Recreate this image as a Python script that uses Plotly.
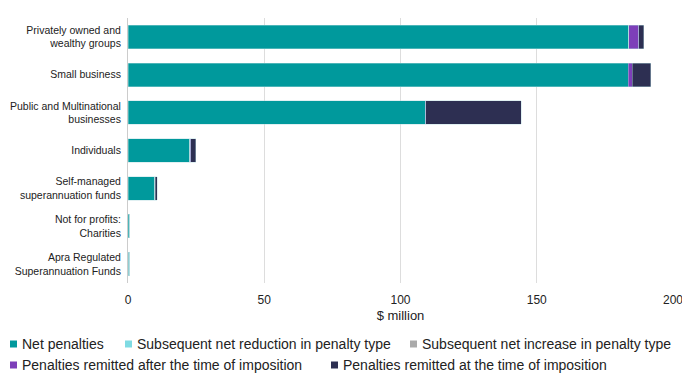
import plotly.graph_objects as go

categories = ["Privately owned and<br>wealthy groups", "Small business", "Public and Multinational<br>businesses",
              "Individuals", "Self-managed<br>superannuation funds", "Not for profits:<br>Charities",
              "Apra Regulated<br>Superannuation Funds"]
net_penalties = [183.8, 183.5, 109.0, 22.7, 9.9, 0.6, 0.3]
net_reduction = [0.0, 0.0, 0.0, 0.0, 0.0, 0.0, 0.1]
net_increase = [0.0, 0.0, 0.0, 0.0, 0.0, 0.0, 0.0]
remitted_after = [3.6, 1.5, 0.2, 0.4, 0.1, 0.0, 0.0]
remitted_at = [1.8, 6.8, 35.2, 1.7, 0.8, 0.0, 0.0]

series_names = ["Net penalties", "Subsequent net reduction in penalty type",
                "Subsequent net increase in penalty type",
                "Penalties remitted after the time of imposition",
                "Penalties remitted at the time of imposition"]
series_values = [net_penalties, net_reduction, net_increase, remitted_after, remitted_at]
series_colors = ["#00999c", "#7fdbe3", "#aaaaaa", "#7d3fb9", "#2d2f52"]

FONT = "Liberation Sans, Arial, sans-serif"

# figure geometry (page is offset by the 8px body margin)
W, H = 682, 372
L, R, T, B = 120, 17, 10, 97
PW, PH = W - L - R, H - T - B

fig = go.Figure()
for name, vals, col in zip(series_names, series_values, series_colors):
    fig.add_trace(go.Bar(
        y=categories, x=vals, name=name, orientation="h",
        marker=dict(color=col, line=dict(color="rgba(180,220,225,0.7)", width=0.6)),
        width=0.62, showlegend=False,
    ))

# manual legend (tight symbol/text spacing like the reference)
legend_pos = [(14, 336), (129, 336), (414, 336), (14, 357), (335, 357)]  # text start x, center y (figure px)
shapes, annotations = [], []
for (tx, cy), name, col in zip(legend_pos, series_names, series_colors):
    sx0 = tx - 12
    shapes.append(dict(type="rect", xref="paper", yref="paper",
                       x0=(sx0 - L) / PW, x1=(sx0 + 7 - L) / PW,
                       y0=(T + PH - (cy + 3.5)) / PH, y1=(T + PH - (cy - 3.5)) / PH,
                       fillcolor=col, line=dict(width=0)))
    annotations.append(dict(text=name, xref="paper", yref="paper",
                            x=(tx - 2 - L) / PW, y=(T + PH - cy) / PH,
                            xanchor="left", yanchor="middle", showarrow=False,
                            font=dict(size=14, family=FONT, color="#222222")))

fig.update_layout(
    barmode="stack",
    width=W, height=H,
    margin=dict(l=L, r=R, t=T, b=B, autoexpand=False),
    paper_bgcolor="white", plot_bgcolor="white",
    font=dict(family=FONT, size=12, color="#222222"),
    showlegend=False,
    shapes=shapes, annotations=annotations,
)
fig.update_xaxes(range=[0, 200], tickvals=[0, 50, 100, 150, 200], showgrid=True,
                 gridcolor="#dddddd", gridwidth=1, zeroline=False,
                 title=dict(text="$ million", font=dict(size=13), standoff=4),
                 tickfont=dict(size=12), ticks="", showline=False, automargin=True,
                 ticklabelstandoff=8)
fig.update_yaxes(autorange="reversed", showline=True, linecolor="#cccccc", linewidth=1,
                 ticks="", tickfont=dict(size=10.5), ticklabelstandoff=4, automargin=False)

fig.write_html("out.html")
